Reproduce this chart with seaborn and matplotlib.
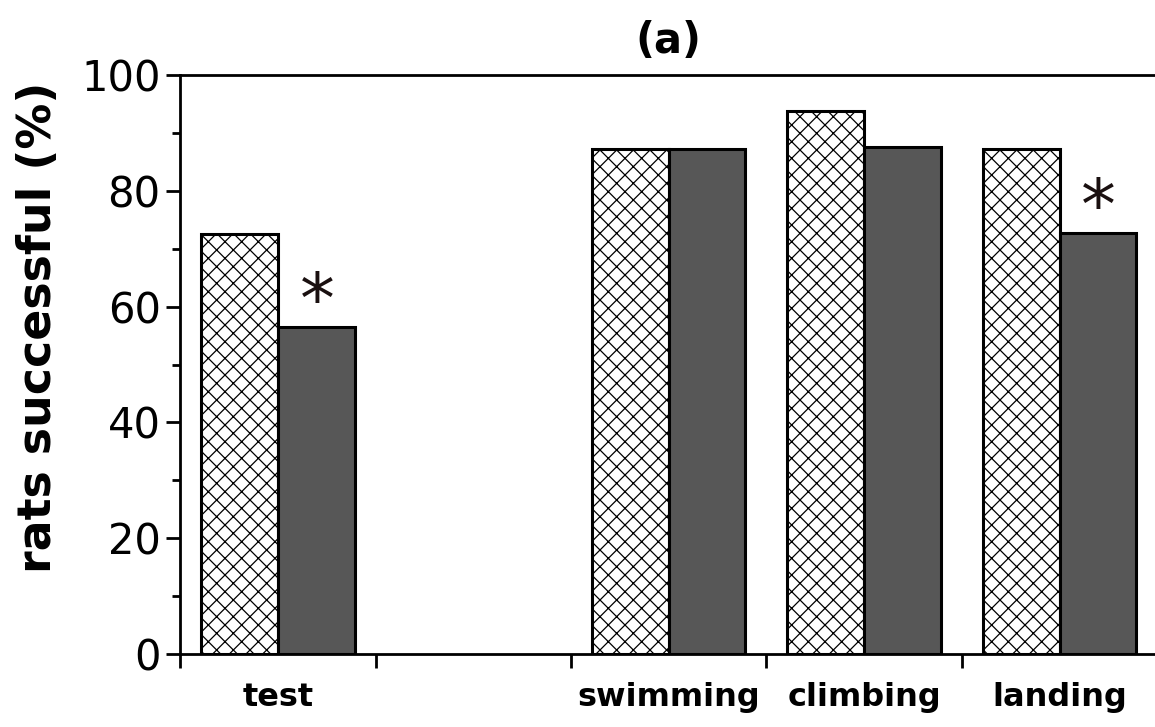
import numpy as np
import pandas as pd
import matplotlib
matplotlib.use("Agg")
import matplotlib.pyplot as plt
import seaborn as sns
from matplotlib.ticker import MultipleLocator, FixedLocator

categories = ["test", " ", "swimming", "climbing", "landing"]
control = [72.5, np.nan, 87.2, 93.8, 87.2]
treated = [56.4, np.nan, 87.2, 87.6, 72.8]
groups = ["control", "treated"]
star_cats = ["test", "landing"]
star_vals = [60.5, 76.8]

sns.set_theme(style="white")
plt.rcParams["font.family"] = ["DejaVu Sans"]
plt.rcParams["hatch.linewidth"] = 0.9
plt.rcParams["text.color"] = "black"
plt.rcParams["xtick.color"] = "black"
plt.rcParams["ytick.color"] = "black"
plt.rcParams["axes.labelcolor"] = "black"

df = pd.DataFrame({
    "category": categories * 2,
    "group": [groups[0]] * len(categories) + [groups[1]] * len(categories),
    "value": control + treated,
})

fig = plt.figure(figsize=(11.55, 7.27), dpi=100)
ax = fig.add_axes([0.156, 0.1004, 0.846, 0.7964])

sns.barplot(data=df, x="category", y="value", hue="group", order=categories,
            hue_order=groups, palette=["white", "#575757"], width=0.785,
            edgecolor="black", linewidth=2.2, legend=False, ax=ax, saturation=1)

for patch in ax.patches:
    fc = patch.get_facecolor()
    if fc[0] > 0.9:
        patch.set_hatch("xx")

ax.set_ylim(0, 100)
ax.set_xlim(-0.5, len(categories) - 0.5)

# y ticks
ax.yaxis.set_major_locator(MultipleLocator(20))
ax.yaxis.set_minor_locator(MultipleLocator(10))
ax.tick_params(axis="y", which="major", length=10, width=2, direction="out",
               labelsize=30, pad=4, left=True)
ax.tick_params(axis="y", which="minor", length=6, width=2, direction="out", left=True)

# x ticks at boundaries, labels at centers
ax.xaxis.set_major_locator(FixedLocator(np.arange(len(categories)) - 0.5))
ax.set_xticklabels([])
ax.xaxis.set_minor_locator(FixedLocator(np.arange(len(categories))))
ax.set_xticklabels(categories, minor=True)
ax.tick_params(axis="x", which="major", length=10, width=2, direction="out", bottom=True)
ax.tick_params(axis="x", which="minor", length=0, labelsize=23, pad=20)
for lab in ax.get_xticklabels(minor=True):
    lab.set_fontweight("bold")

for s in ["left", "bottom", "top"]:
    ax.spines[s].set_linewidth(2)
    ax.spines[s].set_color("black")
ax.spines["right"].set_visible(False)

ax.set_xlabel("")
ax.set_ylabel("rats successful (%)", fontsize=33, fontweight="bold")
ax.yaxis.set_label_coords(-0.122, 0.565)
ax.set_title("(a)", fontsize=30, fontweight="bold", pad=16)

for c, v in zip(star_cats, star_vals):
    i = categories.index(c)
    ax.text(i + 0.2, v, "*", fontsize=50, ha="center", va="center", color="#1a1010")

fig.savefig("out.png", dpi=100)
